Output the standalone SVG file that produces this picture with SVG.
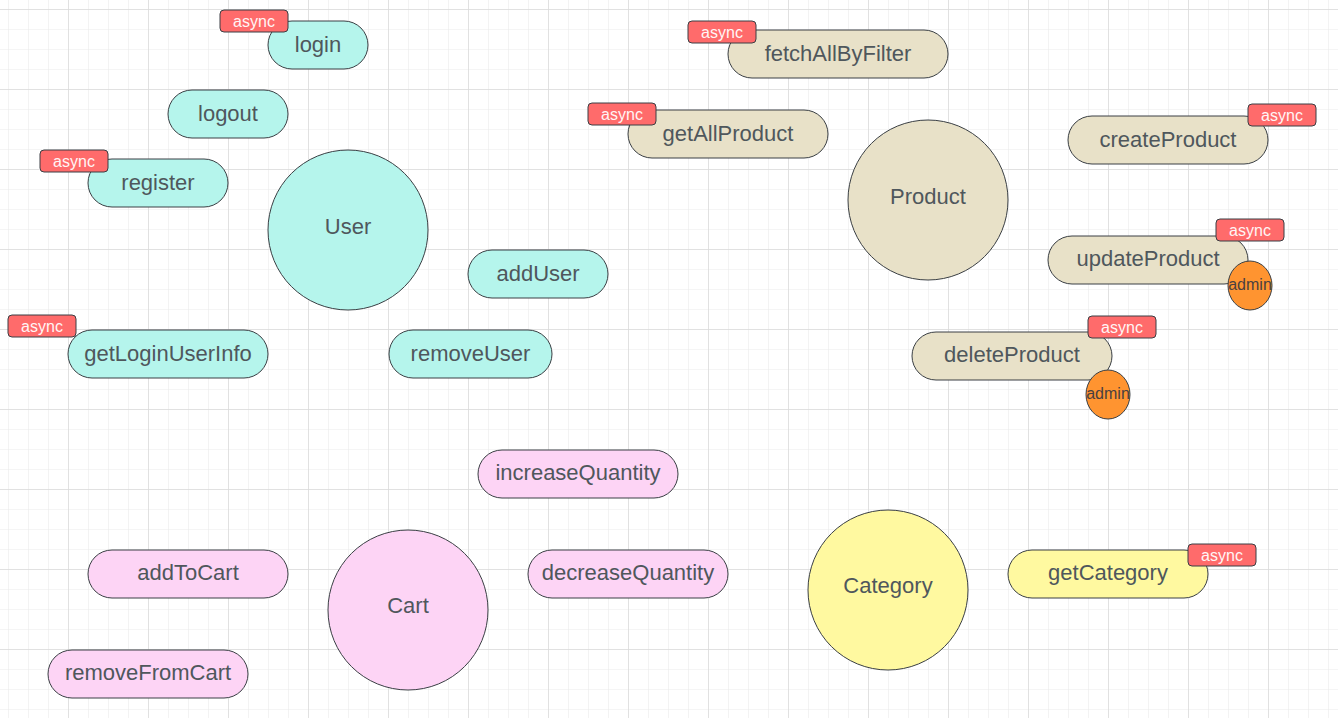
<svg xmlns="http://www.w3.org/2000/svg" width="1338" height="718" viewBox="0 0 1338 718">
<defs>
<pattern id="minor" width="20" height="20" patternUnits="userSpaceOnUse" x="8" y="9">
<path d="M0 0H20M0 0V20" fill="none" stroke="#ebebeb" stroke-width="1.2"/>
</pattern>
<pattern id="major" width="80" height="80" patternUnits="userSpaceOnUse" x="68" y="89">
<path d="M0 0H80M0 0V80" fill="none" stroke="#dadada" stroke-width="1.4"/>
</pattern>
</defs>
<style>
.pill{stroke:#3a3f44;stroke-width:1}
.u{fill:#b5f5ec}.p{fill:#e8e1c8}.c{fill:#fdd4f5}.k{fill:#fff9a0}
.t{font-family:"Liberation Sans",Arial,sans-serif;font-size:22px;fill:#4f575c;text-anchor:middle;dominant-baseline:central}
.badge{fill:#ff6b6b;stroke:#3a3f44;stroke-width:1}
.bt{font-family:"Liberation Sans",Arial,sans-serif;font-size:16px;fill:#fff5f5;text-anchor:middle;dominant-baseline:central}
.adm{fill:#ff9430;stroke:#3a3f44;stroke-width:1}
.at{font-family:"Liberation Sans",Arial,sans-serif;font-size:16px;fill:#4a4040;text-anchor:middle;dominant-baseline:central}
</style>
<rect width="1338" height="718" fill="#ffffff"/>
<rect width="1338" height="718" fill="url(#minor)"/>
<rect width="1338" height="718" fill="url(#major)"/>
<g id="connectors"/>

<g id="login"><rect class="pill u" x="268" y="21" width="100" height="48" rx="24"/><text class="t" x="318" y="44">login</text>
<rect class="badge" x="220" y="10" width="68" height="22" rx="4"/><text class="bt" x="254" y="21">async</text></g>
<g id="logout"><rect class="pill u" x="168" y="90" width="120" height="48" rx="24"/><text class="t" x="228" y="113">logout</text></g>
<g id="register"><rect class="pill u" x="88" y="159" width="140" height="48" rx="24"/><text class="t" x="158" y="182">register</text>
<rect class="badge" x="40" y="150" width="68" height="22" rx="4"/><text class="bt" x="74" y="161">async</text></g>
<g id="user"><circle class="pill u" cx="348" cy="230" r="80"/><text class="t" x="348" y="226">User</text></g>
<g id="addUser"><rect class="pill u" x="468" y="250" width="140" height="48" rx="24"/><text class="t" x="538" y="273">addUser</text></g>
<g id="getLoginUserInfo"><rect class="pill u" x="68" y="330" width="200" height="48" rx="24"/><text class="t" x="168" y="353">getLoginUserInfo</text>
<rect class="badge" x="8" y="315" width="68" height="22" rx="4"/><text class="bt" x="42" y="326">async</text></g>
<g id="removeUser"><rect class="pill u" x="389" y="330" width="163" height="48" rx="24"/><text class="t" x="470.5" y="353">removeUser</text></g>

<g id="fetchAllByFilter"><rect class="pill p" x="728" y="30" width="220" height="48" rx="24"/><text class="t" x="838" y="53">fetchAllByFilter</text>
<rect class="badge" x="688" y="21" width="68" height="22" rx="4"/><text class="bt" x="722" y="32">async</text></g>
<g id="getAllProduct"><rect class="pill p" x="628" y="110" width="200" height="48" rx="24"/><text class="t" x="728" y="133">getAllProduct</text>
<rect class="badge" x="588" y="103" width="68" height="22" rx="4"/><text class="bt" x="622" y="114">async</text></g>
<g id="product"><circle class="pill p" cx="928" cy="200" r="80"/><text class="t" x="928" y="196">Product</text></g>
<g id="createProduct"><rect class="pill p" x="1068" y="116" width="200" height="48" rx="24"/><text class="t" x="1168" y="139">createProduct</text>
<rect class="badge" x="1248" y="104" width="68" height="22" rx="4"/><text class="bt" x="1282" y="115">async</text></g>
<g id="updateProduct"><rect class="pill p" x="1048" y="236" width="200" height="48" rx="24"/><text class="t" x="1148" y="258">updateProduct</text>
<rect class="badge" x="1216" y="219" width="68" height="22" rx="4"/><text class="bt" x="1250" y="230">async</text>
<ellipse class="adm" cx="1250" cy="285.5" rx="22" ry="24.5"/><text class="at" x="1250" y="284">admin</text></g>
<g id="deleteProduct"><rect class="pill p" x="912" y="332" width="200" height="48" rx="24"/><text class="t" x="1012" y="354">deleteProduct</text>
<rect class="badge" x="1088" y="316" width="68" height="22" rx="4"/><text class="bt" x="1122" y="327">async</text>
<ellipse class="adm" cx="1108" cy="394.5" rx="22" ry="24.5"/><text class="at" x="1108" y="393">admin</text></g>

<g id="increaseQuantity"><rect class="pill c" x="478" y="450" width="200" height="48" rx="24"/><text class="t" x="578" y="472">increaseQuantity</text></g>
<g id="addToCart"><rect class="pill c" x="88" y="550" width="200" height="48" rx="24"/><text class="t" x="188" y="572">addToCart</text></g>
<g id="cart"><circle class="pill c" cx="408" cy="610" r="80"/><text class="t" x="408" y="605">Cart</text></g>
<g id="decreaseQuantity"><rect class="pill c" x="528" y="550" width="200" height="48" rx="24"/><text class="t" x="628" y="572">decreaseQuantity</text></g>
<g id="removeFromCart"><rect class="pill c" x="48" y="650" width="200" height="48" rx="24"/><text class="t" x="148" y="672">removeFromCart</text></g>

<g id="category"><circle class="pill k" cx="888" cy="590" r="80"/><text class="t" x="888" y="585">Category</text></g>
<g id="getCategory"><rect class="pill k" x="1008" y="550" width="200" height="48" rx="24"/><text class="t" x="1108" y="572">getCategory</text>
<rect class="badge" x="1188" y="544" width="68" height="22" rx="4"/><text class="bt" x="1222" y="555">async</text></g>
</svg>
